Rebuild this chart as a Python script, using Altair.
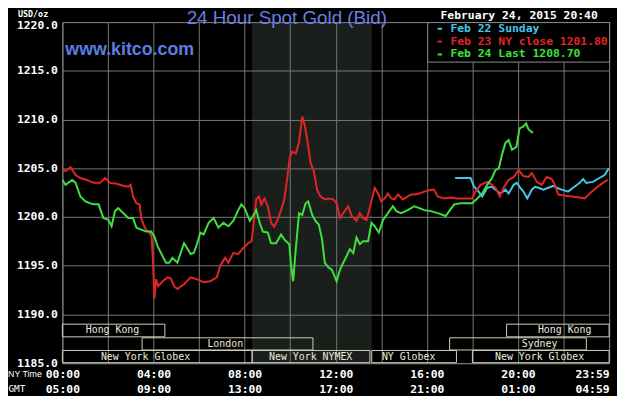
import altair as alt
import pandas as pd

W, H = 553, 345

# ---------------- data ----------------
series_names = ["Feb 22 Sunday", "Feb 23 NY close 1201.80", "Feb 24 Last 1208.70"]
series_colors = ["#47c4e6", "#e32424", "#3ee03e"]

sun_hours = [17.24, 17.92, 18.07, 18.21, 18.43, 18.65, 18.86, 19.01, 19.23, 19.45, 19.59, 19.81,
             19.95, 20.1, 20.24, 20.41, 20.61, 20.75, 20.9, 21.12, 21.33, 21.55, 21.7, 21.91,
             22.2, 22.42, 22.71, 22.86, 23.0, 23.29, 23.58, 23.8, 23.99]
sun_prices = [1204.0, 1204.0, 1203.1, 1202.8, 1202.1, 1203.0, 1203.1, 1202.8, 1202.4, 1202.8, 1202.4, 1203.3,
              1203.5, 1203.0, 1202.6, 1201.9, 1202.8, 1203.1, 1203.0, 1202.8, 1203.0, 1203.2, 1203.0, 1202.8,
              1202.6, 1203.0, 1203.5, 1203.9, 1203.5, 1203.6, 1204.0, 1204.3, 1205.0]

mon_hours = [0, 0.14, 0.36, 0.58, 0.79, 1.08, 1.37, 1.66, 1.88, 2.09, 2.38, 2.67, 2.89, 3.0, 3.1, 3.25,
             3.39, 3.46, 3.58, 3.68, 3.82, 3.92, 3.98, 4.04, 4.11, 4.21, 4.4, 4.62, 4.76, 4.9, 5.05,
             5.34, 5.63, 5.92, 6.2, 6.49, 6.78, 6.93, 7.14, 7.29, 7.5, 7.72, 7.94, 8.15, 8.3, 8.37,
             8.51, 8.63, 8.73, 8.87, 9.02, 9.16, 9.3, 9.45, 9.6, 9.74, 9.88, 9.99, 10.1, 10.25, 10.39,
             10.53, 10.65, 10.75, 10.9, 11.04, 11.18, 11.33, 11.54, 11.69, 11.9, 12.04, 12.19, 12.33,
             12.55, 12.7, 12.91, 13.06, 13.2, 13.35, 13.49, 13.71, 13.86, 14.0, 14.15, 14.29, 14.44,
             14.58, 14.73, 14.95, 15.16, 15.31, 15.45, 15.67, 15.89, 16.18, 16.32, 16.47, 16.76, 17.05,
             17.34, 17.63, 17.99, 18.14, 18.36, 18.65, 18.86, 19.01, 19.2, 19.37, 19.59, 19.81, 20.03,
             20.24, 20.46, 20.61, 20.83, 21.04, 21.26, 21.48, 21.62, 21.77, 21.99, 22.35, 22.71, 22.93,
             23.15, 23.44, 23.73, 23.94]
mon_prices = [1204.9, 1204.7, 1205.1, 1204.3, 1204.0, 1203.8, 1203.5, 1203.5, 1204.0, 1203.5, 1203.4, 1203.2,
              1203.1, 1203.3, 1202.1, 1201.4, 1201.3, 1199.9, 1199.1, 1198.7, 1198.4, 1198.0, 1195.3, 1191.6,
              1193.6, 1192.9, 1193.4, 1193.8, 1193.7, 1192.9, 1192.6, 1193.1, 1193.8, 1193.6, 1193.3, 1193.4,
              1193.8, 1195.0, 1195.8, 1195.3, 1196.3, 1196.2, 1196.8, 1197.3, 1197.5, 1198.7, 1201.8, 1202.1,
              1201.3, 1201.9, 1201.1, 1199.4, 1199.0, 1199.7, 1200.7, 1201.8, 1204.1, 1206.2, 1206.7, 1206.5,
              1207.7, 1210.3, 1209.3, 1207.9, 1205.5, 1204.7, 1202.8, 1202.1, 1201.8, 1201.9, 1201.8, 1201.4,
              1199.9, 1200.4, 1201.1, 1200.1, 1199.6, 1200.4, 1199.9, 1199.7, 1200.9, 1203.0, 1202.4, 1201.6,
              1201.9, 1202.4, 1201.9, 1201.8, 1202.3, 1201.8, 1202.1, 1202.3, 1202.3, 1202.4, 1202.6, 1202.8,
              1202.8, 1202.1, 1201.9, 1202.0, 1201.9, 1201.9, 1201.9, 1202.6, 1203.3, 1203.6, 1203.3, 1203.0,
              1202.1, 1203.0, 1203.8, 1204.1, 1204.8, 1204.2, 1204.1, 1204.5, 1203.6, 1203.3, 1204.1, 1203.9,
              1203.3, 1202.3, 1202.2, 1202.1, 1202.0, 1201.9, 1202.4, 1203.0, 1203.5, 1203.8]

tue_hours = [0, 0.14, 0.43, 0.58, 0.79, 1.01, 1.23, 1.37, 1.59, 1.8, 2.02, 2.16, 2.31, 2.45, 2.67, 2.89,
             3.1, 3.25, 3.46, 3.68, 3.9, 4.04, 4.18, 4.33, 4.55, 4.69, 4.83, 5.05, 5.19, 5.34, 5.48, 5.63,
             5.77, 5.92, 6.06, 6.2, 6.42, 6.64, 6.85, 7.07, 7.29, 7.5, 7.72, 7.86, 8.0, 8.23, 8.37, 8.51,
             8.66, 8.8, 9.02, 9.16, 9.38, 9.6, 9.74, 9.96, 10.03, 10.13, 10.25, 10.39, 10.53, 10.68, 10.79,
             10.97, 11.11, 11.26, 11.4, 11.52, 11.69, 11.83, 12.04, 12.19, 12.33, 12.48, 12.62, 12.77,
             12.91, 13.06, 13.2, 13.42, 13.57, 13.71, 13.89, 14.08, 14.29, 14.51, 14.66, 14.87, 15.16,
             15.45, 15.67, 15.89, 16.18, 16.47, 16.83, 16.98, 17.2, 17.49, 17.99, 18.21, 18.43, 18.65,
             18.86, 19.01, 19.16, 19.3, 19.45, 19.59, 19.74, 19.93, 20.07, 20.24, 20.36, 20.46, 20.61, 20.67]
tue_prices = [1203.8, 1203.3, 1203.8, 1203.5, 1202.1, 1201.6, 1201.4, 1201.3, 1201.3, 1199.9, 1199.7, 1199.05,
              1200.6, 1200.9, 1200.4, 1199.9, 1199.9, 1198.9, 1198.7, 1198.5, 1198.5, 1198.0, 1197.0, 1196.3,
              1195.3, 1195.3, 1195.8, 1195.3, 1196.3, 1197.3, 1196.8, 1196.2, 1196.3, 1197.3, 1198.4, 1198.2,
              1199.4, 1199.9, 1198.9, 1199.4, 1199.05, 1199.6, 1200.7, 1201.3, 1200.9, 1199.6, 1200.1, 1200.7,
              1199.4, 1198.5, 1198.4, 1197.3, 1197.3, 1198.2, 1197.7, 1197.2, 1195.3, 1193.4, 1196.8, 1200.4,
              1200.2, 1201.4, 1201.6, 1200.2, 1199.6, 1199.2, 1197.7, 1195.3, 1194.8, 1194.6, 1193.4, 1194.6,
              1195.3, 1196.0, 1196.7, 1196.3, 1197.9, 1197.2, 1197.5, 1197.5, 1199.4, 1199.05, 1198.4, 1199.7,
              1200.4, 1201.1, 1200.6, 1200.4, 1200.7, 1201.1, 1200.9, 1200.7, 1200.6, 1200.4, 1200.1, 1200.6,
              1201.3, 1201.4, 1201.4, 1201.9, 1202.4, 1203.3, 1204.0, 1204.8, 1205.0, 1206.4, 1207.6, 1207.9,
              1206.9, 1207.2, 1209.1, 1209.3, 1209.6, 1209.0, 1208.7, 1208.7]

session_names = ["Hong Kong", "Hong Kong", "London", "Sydney",
                 "New York Globex", "New York NYMEX", "NY Globex", "New York Globex"]
session_start = [0, 19.5, 3.5, 17.0, 0, 8.33, 13.58, 18.0]
session_end = [4.5, 24, 11.0, 23.0, 8.33, 13.5, 17.3, 24]
session_row = [0, 0, 1, 1, 2, 2, 2, 2]
session_label_at = [2.2, 22.05, 7.15, 20.95, 3.65, 10.9, 15.2, 20.95]
row_top = [1189.0, 1187.6, 1186.3]
row_bottom = [1187.7, 1186.35, 1185.05]

nymex_hours = [8.33, 13.58]

x_ticks = [0, 4, 8, 12, 16, 20, 24]
ny_time_labels = ["00:00", "04:00", "08:00", "12:00", "16:00", "20:00", "23:59"]
gmt_labels = ["05:00", "09:00", "13:00", "17:00", "21:00", "01:00", "04:59"]
x_grid = list(range(0, 25, 2))
y_ticks = [1185, 1190, 1195, 1200, 1205, 1210, 1215, 1220]

# ---------------- tables ----------------
lines_df = pd.concat([
    pd.DataFrame({"hour": sun_hours, "price": sun_prices, "series": series_names[0]}),
    pd.DataFrame({"hour": mon_hours, "price": mon_prices, "series": series_names[1]}),
    pd.DataFrame({"hour": tue_hours, "price": tue_prices, "series": series_names[2]}),
])
sess_df = pd.DataFrame({
    "name": session_names,
    "start": session_start,
    "end": session_end,
    "label_at": session_label_at,
    "top": [row_top[r] for r in session_row],
    "bottom": [row_bottom[r] for r in session_row],
})
shade_df = pd.DataFrame({"start": [nymex_hours[0]], "end": [nymex_hours[1]]})

label_expr = " : ".join(
    f"datum.value == {t} ? ['{a}', '{b}']" for t, a, b in zip(x_ticks, ny_time_labels, gmt_labels)
) + " : ''"

MONO = "DejaVu Sans Mono"
xs = alt.Scale(domain=[0, 24], nice=False, zero=False)
ys = alt.Scale(domain=[1185, 1220], nice=False, zero=False)
xaxis = alt.Axis(values=x_grid, labelExpr=label_expr, title=None, grid=True, ticks=False,
                 domain=False, labelFlush=False, labelOverlap=False, labelLineHeight=15,
                 labelPadding=6, labelBaseline="top",
                 labelAlign={"condition": {"test": "datum.value == 24", "value": "right"}, "value": "center"})
yaxis = alt.Axis(values=y_ticks, format=".1f", title=None, grid=True, ticks=False, domain=False,
                 labelPadding=5,
                 labelOffset={"condition": {"test": f"datum.value == {y_ticks[-1]}", "value": 4}, "value": 0})

base_x = lambda f: alt.X(f, type="quantitative", scale=xs, axis=xaxis)
base_y = lambda f: alt.Y(f, type="quantitative", scale=ys, axis=yaxis)

shade = alt.Chart(shade_df).mark_rect(fill="#6b7a70", opacity=0.25).encode(
    x=base_x("start"), x2="end")

boxes = alt.Chart(sess_df).mark_rect(fill="#000", fillOpacity=0, stroke="#cfcfbe", strokeWidth=1).encode(
    x=base_x("start"), x2="end", y=base_y("top"), y2="bottom")

box_text = alt.Chart(sess_df).transform_calculate(mid="(datum.top + datum.bottom) / 2").mark_text(
    font=MONO, fontSize=10, color="#ecebdc", baseline="middle", align="center").encode(
    x=base_x("label_at"), y=base_y("mid"), text="name:N")

lines = alt.Chart(lines_df).mark_line(strokeWidth=2).encode(
    x=base_x("hour"), y=base_y("price"),
    color=alt.Color("series:N", scale=alt.Scale(domain=series_names, range=series_colors),
                    legend=alt.Legend(title=None, orient="none", legendX=369, legendY=0,
                                      direction="vertical", fillColor="#000", strokeColor="#8c8c8c",
                                      padding=1, symbolType="stroke", symbolSize=20,
                                      symbolStrokeWidth=2, symbolOffset=6, labelOffset=5,
                                      rowPadding=0, labelFont=MONO, labelFontWeight="bold",
                                      labelFontSize=11.5, labelLimit=400,
                                      labelColor={"expr": "scale('color', datum.value)"})),
)


def note(text, x, y, **kw):
    return alt.Chart(pd.DataFrame({"t": [text]})).mark_text(**kw).encode(
        text="t:N", x=alt.value(x), y=alt.value(y))


notes = [
    note("24 Hour Spot Gold (Bid)", 227, 2, font="Liberation Sans", fontSize=19, color="#6b7fe0",
         align="center", baseline="alphabetic"),
    note("www.kitco.com", 3, 33, font="Liberation Sans", fontSize=18, fontWeight="bold",
         color="#5d7de0", align="left", baseline="alphabetic"),
    note("USD/oz", -45, -12.5, font=MONO, fontSize=8.5, fontWeight="bold", color="#ffffff",
         align="left", baseline="top"),
    note("February 24, 2015 20:40", 462, -6, font=MONO, fontSize=11.5, fontWeight="bold",
         color="#ffffff", align="center", baseline="middle"),
    note("NY Time", -55, H + 11, font="Liberation Sans", fontSize=9, color="#ffffff",
         align="left", baseline="middle"),
    note("GMT", -46, H + 26, font=MONO, fontSize=9.5, color="#ffffff",
         align="center", baseline="middle"),
]

chart = alt.layer(shade, boxes, box_text, lines, *notes).properties(
    width=W, height=H,
    autosize=alt.AutoSizeParams(type="none"),
    padding={"left": 55, "top": 12, "right": 8, "bottom": 31},
    background="#000000",
).configure_view(stroke="#8c8c8c", strokeWidth=1).configure_axis(
    labelColor="#ffffff", labelFont=MONO, labelFontWeight="bold", labelFontSize=11.5,
    gridColor="#777777", gridWidth=1, gridOpacity=1,
)

chart.save("out.html", embed_options={"renderer": "svg", "actions": False})
